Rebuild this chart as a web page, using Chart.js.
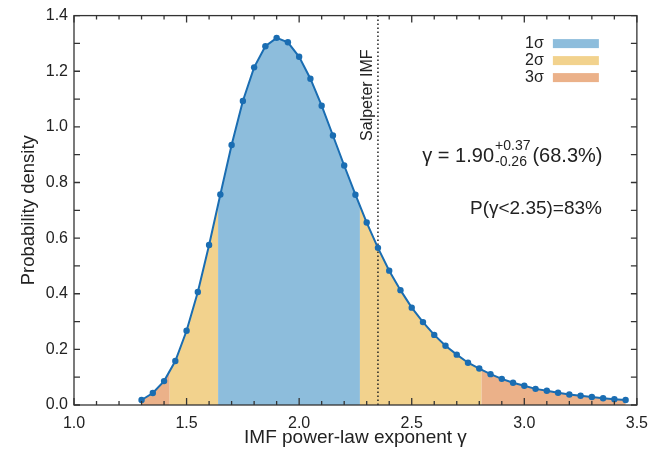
<!DOCTYPE html>
<html>
<head>
<meta charset="utf-8">
<script src="https://cdn.jsdelivr.net/npm/chart.js@4.4.1/dist/chart.umd.min.js"></script>
<style>
  html, body { margin: 0; padding: 0; background: #fff; }
  #wrap { width: 657px; height: 455px; position: relative; }
</style>
</head>
<body>
<div id="wrap"><canvas id="pdfChart"></canvas></div>
<script>
// Posterior of the IMF power-law exponent
const gammaVals = [
  1.30, 1.35, 1.40, 1.45, 1.50, 1.55, 1.60, 1.65, 1.70, 1.75, 1.80,
  1.85, 1.90, 1.95, 2.00, 2.05, 2.10, 2.15, 2.20, 2.25, 2.30, 2.35,
  2.40, 2.45, 2.50, 2.55, 2.60, 2.65, 2.70, 2.75, 2.80, 2.85, 2.90,
  2.95, 3.00, 3.05, 3.10, 3.15, 3.20, 3.25, 3.30, 3.35, 3.40, 3.45
];
const density = [
  0.018, 0.043, 0.086, 0.158, 0.267, 0.406, 0.575, 0.757, 0.935, 1.093, 1.214,
  1.290, 1.320, 1.304, 1.252, 1.173, 1.076, 0.969, 0.861, 0.756, 0.656, 0.565,
  0.483, 0.413, 0.350, 0.298, 0.252, 0.213, 0.181, 0.152, 0.131, 0.111, 0.094,
  0.080, 0.069, 0.058, 0.051, 0.044, 0.038, 0.033, 0.029, 0.024, 0.021, 0.018
];

// Credible-interval bands (edges in gamma) and their levels
const bandEdges = [1.30, 1.425, 1.64, 2.27, 2.81, 3.45];
const bandLevels = ['3σ', '2σ', '1σ', '2σ', '3σ'];
const legendLabels = ['1σ', '2σ', '3σ'];
const levelColors = { '1σ': '#8dbddc', '2σ': '#f2d28d', '3σ': '#ebb189' };

const salpeter = 2.35;
const xTicks = [1.0, 1.5, 2.0, 2.5, 3.0, 3.5];
const yTicks = [0.0, 0.2, 0.4, 0.6, 0.8, 1.0, 1.2, 1.4];

const lineColor = '#1a6db2';
const fontFam = '"Liberation Sans", Arial, Helvetica, sans-serif';
Chart.defaults.font.family = fontFam;
Chart.defaults.color = '#222';

// shaded bands under the curve, plus the Salpeter marker
const bandsPlugin = {
  id: 'bands',
  beforeDatasetsDraw(chart) {
    const { ctx, chartArea, scales } = chart;
    const pts = chart.getDatasetMeta(0).data;
    const base = scales.y.getPixelForValue(0);
    for (let i = 0; i < bandLevels.length; i++) {
      const x0 = scales.x.getPixelForValue(bandEdges[i]);
      const x1 = scales.x.getPixelForValue(bandEdges[i + 1]);
      ctx.save();
      ctx.beginPath();
      ctx.rect(x0, chartArea.top, x1 - x0, chartArea.bottom - chartArea.top);
      ctx.clip();
      ctx.beginPath();
      ctx.moveTo(pts[0].x, base);
      pts.forEach(p => ctx.lineTo(p.x, p.y));
      ctx.lineTo(pts[pts.length - 1].x, base);
      ctx.closePath();
      ctx.fillStyle = levelColors[bandLevels[i]];
      ctx.fill();
      ctx.restore();
    }

    // Salpeter line
    const sx = scales.x.getPixelForValue(salpeter);
    ctx.save();
    ctx.strokeStyle = '#222';
    ctx.lineWidth = 1.5;
    ctx.setLineDash([1.5, 2.5]);
    ctx.beginPath();
    ctx.moveTo(sx, chartArea.top);
    ctx.lineTo(sx, chartArea.bottom);
    ctx.stroke();
    ctx.restore();

    ctx.save();
    ctx.translate(sx - 10, scales.y.getPixelForValue(1.114));
    ctx.rotate(-Math.PI / 2);
    ctx.font = '16px ' + fontFam;
    ctx.fillStyle = '#222';
    ctx.textAlign = 'center';
    ctx.textBaseline = 'middle';
    ctx.fillText('Salpeter IMF', 0, 0);
    ctx.restore();
  }
};

// frame, inward ticks, legend and annotations
const framePlugin = {
  id: 'frame',
  afterDraw(chart) {
    const { ctx, chartArea: a, scales } = chart;
    ctx.save();
    ctx.strokeStyle = '#333';
    ctx.lineWidth = 1.3;
    ctx.strokeRect(a.left, a.top, a.right - a.left, a.bottom - a.top);

    ctx.beginPath();
    for (let k = 10; k <= 35; k++) {
      const x = scales.x.getPixelForValue(k / 10);
      const len = k % 5 === 0 ? 7 : 4;
      ctx.moveTo(x, a.bottom); ctx.lineTo(x, a.bottom - len);
      ctx.moveTo(x, a.top); ctx.lineTo(x, a.top + len);
    }
    for (let k = 0; k <= 14; k++) {
      const y = scales.y.getPixelForValue(k / 10);
      ctx.moveTo(a.left, y); ctx.lineTo(a.left + 6, y);
      ctx.moveTo(a.right, y); ctx.lineTo(a.right - 6, y);
    }
    ctx.stroke();

    // legend
    ctx.font = '16px ' + fontFam;
    ctx.fillStyle = '#222';
    ctx.textAlign = 'right';
    ctx.textBaseline = 'middle';
    legendLabels.forEach((lab, i) => {
      const y = a.top + 28 + i * 17;
      ctx.fillText(lab, a.right - 93, y);
      ctx.fillStyle = levelColors[lab];
      ctx.fillRect(a.right - 84, y - 4.5, 46, 9);
      ctx.fillStyle = '#222';
    });

    // gamma estimate
    const gx = scales.x.getPixelForValue(2.547);
    const gy = scales.y.getPixelForValue(0.875);
    ctx.textAlign = 'left';
    ctx.textBaseline = 'alphabetic';
    ctx.font = '20px ' + fontFam;
    const main = 'γ = 1.90';
    ctx.fillText(main, gx, gy);
    let cx = gx + ctx.measureText(main).width + 1;
    ctx.font = '14px ' + fontFam;
    ctx.fillText('+0.37', cx, gy - 12);
    ctx.fillText('-0.26', cx, gy + 4);
    cx += Math.max(ctx.measureText('+0.37').width, ctx.measureText('-0.26').width) + 2;
    ctx.font = '20px ' + fontFam;
    ctx.fillText('(68.3%)', cx, gy);

    ctx.font = '19px ' + fontFam;
    ctx.textAlign = 'right';
    ctx.textBaseline = 'middle';
    ctx.fillText('P(γ<2.35)=83%', scales.x.getPixelForValue(3.345), scales.y.getPixelForValue(0.707));
    ctx.restore();
  }
};

new Chart(document.getElementById('pdfChart'), {
  type: 'line',
  data: {
    datasets: [{
      data: gammaVals.map((g, i) => ({ x: g, y: density[i] })),
      borderColor: lineColor,
      backgroundColor: lineColor,
      borderWidth: 2,
      pointRadius: 3.2,
      pointBackgroundColor: lineColor,
      pointBorderWidth: 0,
      tension: 0,
      fill: false
    }]
  },
  options: {
    responsive: true,
    maintainAspectRatio: false,
    animation: false,
    layout: { padding: { top: 13, right: 19, left: 0, bottom: 0 } },
    plugins: { legend: { display: false }, tooltip: { enabled: false } },
    scales: {
      x: {
        type: 'linear',
        min: 1.0,
        max: 3.5,
        afterBuildTicks: s => { s.ticks = xTicks.map(v => ({ value: v })); },
        afterFit: s => { s.height = 50; },
        grid: { display: false, drawTicks: false },
        border: { display: false },
        ticks: { font: { size: 16 }, padding: 9, callback: v => v.toFixed(1), maxRotation: 0 },
        title: { display: true, text: 'IMF power-law exponent γ', font: { size: 19 }, padding: { top: 0, bottom: 6 } }
      },
      y: {
        min: 0,
        max: 1.4,
        afterBuildTicks: s => { s.ticks = yTicks.map(v => ({ value: v })); },
        afterFit: s => { s.width = 74; },
        grid: { display: false, drawTicks: false },
        border: { display: false },
        ticks: { font: { size: 16 }, padding: 6, callback: v => v.toFixed(1) },
        title: { display: true, text: 'Probability density', font: { size: 18.5 }, padding: { top: 18, bottom: 0 } }
      }
    }
  },
  plugins: [bandsPlugin, framePlugin]
});
</script>
</body>
</html>
